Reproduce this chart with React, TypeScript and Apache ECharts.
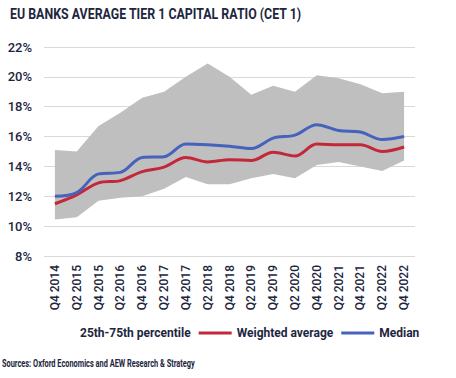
import React, { useEffect, useRef } from "react";
import * as echarts from "echarts";

const categories = [
  "Q4 2014", "Q2 2015", "Q4 2015", "Q2 2016", "Q4 2016", "Q2 2017", "Q4 2017", "Q2 2018", "Q4 2018",
  "Q2 2019", "Q4 2019", "Q2 2020", "Q4 2020", "Q2 2021", "Q4 2021", "Q2 2022", "Q4 2022",
];
const p25 = [10.45, 10.6, 11.7, 11.9, 12.0, 12.5, 13.3, 12.8, 12.8, 13.2, 13.5, 13.2, 14.1, 14.3, 14.0, 13.7, 14.4];
const p75 = [15.1, 15.0, 16.7, 17.6, 18.6, 19.0, 20.0, 20.9, 20.0, 18.8, 19.4, 19.0, 20.1, 19.9, 19.5, 18.9, 19.0];
const weighted = [11.5, 12.1, 12.9, 13.05, 13.65, 13.95, 14.6, 14.3, 14.45, 14.4, 14.95, 14.7, 15.5, 15.45, 15.45, 15.0, 15.3];
const median = [12.0, 12.25, 13.5, 13.6, 14.6, 14.65, 15.5, 15.45, 15.35, 15.2, 15.9, 16.1, 16.8, 16.4, 16.3, 15.8, 16.0];
const yTicks = { min: 8, max: 22, interval: 2 };

const FONT = "Roboto, 'Liberation Sans', sans-serif";
const NAVY = "#1d2640";
const RED = "#c3283a";
const BLUE = "#4562bd";
const GRAY = "#bfbfbf";

export default function App() {
  const ref = useRef<HTMLDivElement>(null);
  useEffect(() => {
    document.body.style.margin = "0";
    const chart = echarts.init(ref.current!, null, { renderer: "svg" });
    const bandDiff = p75.map((v, i) => +(v - p25[i]).toFixed(3));
    chart.setOption({
      animation: false,
      textStyle: { fontFamily: FONT },
      grid: { left: 44, right: 41, top: 47, bottom: 122, containLabel: false },
      xAxis: {
        type: "category",
        data: categories,
        boundaryGap: true,
        axisLine: { show: false },
        axisTick: { show: false },
        axisLabel: { rotate: 90, fontSize: 12, color: NAVY, fontWeight: 500, margin: 9, fontFamily: FONT, interval: 0 },
      },
      yAxis: {
        type: "value",
        min: yTicks.min,
        max: yTicks.max,
        interval: yTicks.interval,
        axisLine: { show: false },
        axisTick: { show: false },
        axisLabel: { formatter: "{value}%", fontSize: 13, color: NAVY, fontWeight: 500, margin: 12, fontFamily: FONT },
        splitLine: { lineStyle: { color: "#d9d9d9", width: 1 } },
      },
      legend: {
        bottom: 34,
        left: 37,
        itemGap: 8,
        itemWidth: 33,
        itemHeight: 3,
        textStyle: { fontSize: 12, fontWeight: "bold", color: NAVY, fontFamily: FONT },
        data: [
          { name: "25th-75th percentile", icon: "rect", itemStyle: { color: "rgba(0,0,0,0)", opacity: 0 } },
          { name: "Weighted average", icon: "rect" },
          { name: "Median", icon: "rect" },
        ],
      },
      graphic: [
        {
          type: "text",
          x: 10,
          y: 6,
          scaleX: 0.826,
          style: {
            text: "EU BANKS AVERAGE TIER 1 CAPITAL RATIO (CET 1)",
            fontSize: 15,
            fontWeight: "bold",
            fill: NAVY,
            fontFamily: FONT,
          },
        },
        {
          type: "text",
          x: 2,
          y: 359,
          scaleX: 0.74,
          style: {
            text: "Sources: Oxford Economics and AEW Research & Strategy",
            fontSize: 10,
            fontWeight: "bold",
            fill: NAVY,
            fontFamily: FONT,
          },
        },
      ],
      series: [
        {
          name: "p25base",
          type: "line",
          stack: "band",
          data: p25,
          symbol: "none",
          lineStyle: { opacity: 0 },
          silent: true,
        },
        {
          name: "25th-75th percentile",
          type: "line",
          stack: "band",
          data: bandDiff,
          symbol: "none",
          lineStyle: { opacity: 0 },
          itemStyle: { color: GRAY },
          areaStyle: { color: GRAY, opacity: 1 },
          silent: true,
        },
        {
          name: "Weighted average",
          type: "line",
          data: weighted,
          symbol: "none",
          smooth: 0.35,
          lineStyle: { color: RED, width: 3 },
          itemStyle: { color: RED },
        },
        {
          name: "Median",
          type: "line",
          data: median,
          symbol: "none",
          smooth: 0.35,
          lineStyle: { color: BLUE, width: 3 },
          itemStyle: { color: BLUE },
        },
      ],
    });
    return () => chart.dispose();
  }, []);
  return <div ref={ref} style={{ width: 456, height: 378, position: "absolute", left: 0, top: 0 }} />;
}
